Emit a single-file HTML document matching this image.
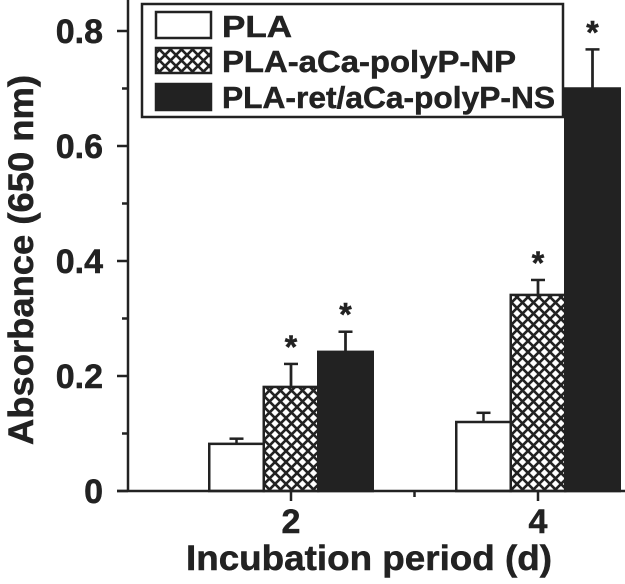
<!DOCTYPE html>
<html><head><meta charset="utf-8"><style>
body{margin:0;background:#fff;}
svg text{font-family:"Liberation Sans",Arial,sans-serif;font-weight:bold;fill:#222;stroke:#222;stroke-width:0.5;}
</style></head><body>
<svg id="chart" width="625" height="579" viewBox="0 0 625 579" xmlns="http://www.w3.org/2000/svg">
<defs>
<pattern id="xhatch" patternUnits="userSpaceOnUse" width="11" height="11">
<rect width="11" height="11" fill="#fff"/>
<path d="M-1,1 L1,-1 M0,11 L11,0 M10,12 L12,10" stroke="#222" stroke-width="2.6"/>
<path d="M-1,10 L1,12 M0,0 L11,11 M10,-1 L12,1" stroke="#222" stroke-width="2.6"/>
</pattern>
</defs>
<g id="plot"></g>
<g id="legend">
<rect x="142" y="4" width="421" height="113" fill="#fff" stroke="#222" stroke-width="2.5"/>
<g>
<rect x="156" y="12" width="55" height="26" fill="#fff" stroke="#222" stroke-width="2.5"/>
<text x="222" y="37" font-size="31" textLength="70" lengthAdjust="spacingAndGlyphs">PLA</text></g>
<g>
<rect x="156" y="48" width="55" height="25" fill="url(#xhatch)" stroke="#222" stroke-width="2.5"/>
<text x="222" y="72" font-size="31" textLength="294" lengthAdjust="spacingAndGlyphs">PLA-aCa-polyP-NP</text></g>
<g>
<rect x="156" y="84" width="55" height="26" fill="#222" stroke="#222" stroke-width="2.5"/>
<text x="222" y="108" font-size="31" textLength="333" lengthAdjust="spacingAndGlyphs">PLA-ret/aCa-polyP-NS</text></g>
</g>
<text transform="translate(33,260) rotate(-90)" text-anchor="middle" font-size="35" textLength="370" lengthAdjust="spacingAndGlyphs">Absorbance (650 nm)</text>
<text x="369" y="570" text-anchor="middle" font-size="35" textLength="366" lengthAdjust="spacingAndGlyphs">Incubation period (d)</text>
</svg>
<script>
const categories=["2","4"];
const seriesNames=["PLA","PLA-aCa-polyP-NP","PLA-ret/aCa-polyP-NS"];
const plaValues=[0.082,0.12];
const plaErrors=[0.009,0.016];
const npValues=[0.181,0.341];
const npErrors=[0.04,0.026];
const nsValues=[0.242,0.70];
const nsErrors=[0.035,0.068];
const starred=[[false,false],[true,true],[true,true]];
const yTicks=[0,0.2,0.4,0.6,0.8];
const yTickLabels=["0","0.2","0.4","0.6","0.8"];

const NS="http://www.w3.org/2000/svg";
const g=document.getElementById('plot');
const X0=128,Y0=491,PXU=575;
const groupCenters={"2":291,"4":538};
const barW=54.5;
function y(v){return Y0-v*PXU;}
function x(cat,i){return groupCenters[cat]+(i-1.5)*barW;}
function mk(tag,attrs){const e=document.createElementNS(NS,tag);for(const k in attrs)e.setAttribute(k,attrs[k]);g.appendChild(e);return e;}
const fills=["#fff","url(#xhatch)","#222"];
const vals=[plaValues,npValues,nsValues];
const errs=[plaErrors,npErrors,nsErrors];
categories.forEach((c,ci)=>{
  vals.forEach((arr,si)=>{
    const v=arr[ci],e=errs[si][ci];
    const bx=x(c,si),cx=bx+barW/2;
    const ln=mk('line',{x1:cx,x2:cx,y1:y(v),y2:y(v+e),stroke:'#222','stroke-width':2.5});
    
    
    const cap=mk('line',{x1:cx-7,x2:cx+7,y1:y(v+e),y2:y(v+e),stroke:'#222','stroke-width':2.5});
    
    
    if(si===0){const cap2=mk('line',{x1:cx-7,x2:cx+7,y1:y(v-e),y2:y(v-e),stroke:'#222','stroke-width':2.5});
      
      }
    const r=mk('rect',{x:bx,y:y(v),width:barW,height:v*PXU,fill:fills[si],stroke:'#222','stroke-width':2.5});
    
    
    if(si>0){const l2=mk('line',{x1:cx,x2:cx,y1:y(v),y2:y(v+e),stroke:'#222','stroke-width':2.5});
      
      }
    if(starred[si][ci]){const t=mk('text',{x:cx,y:y(v+e)-6,'text-anchor':'middle','font-size':32});t.textContent='*';
      
      }
  });
});
const ya=mk('line',{x1:X0,x2:X0,y1:0,y2:Y0,stroke:'#222','stroke-width':2.5});


const xa=mk('line',{x1:117,x2:625,y1:Y0,y2:Y0,stroke:'#222','stroke-width':2.5});


yTicks.forEach((t,i)=>{
  const l=mk('line',{x1:117,x2:X0,y1:y(t),y2:y(t),stroke:'#222','stroke-width':2.5});
  
  
  if(i<yTicks.length-1){const m=mk('line',{x1:122,x2:X0,y1:y(t+0.1),y2:y(t+0.1),stroke:'#222','stroke-width':2.5});
    
    }
  const tx=mk('text',{x:103,y:y(t)+12,'text-anchor':'end','font-size':34});
  tx.textContent=yTickLabels[i];
  
  
});
categories.forEach(c=>{
  const cx=groupCenters[c];
  const l=mk('line',{x1:cx,x2:cx,y1:Y0,y2:Y0+10,stroke:'#222','stroke-width':2.5});
  
  
  const t=mk('text',{x:cx,y:533,'text-anchor':'middle','font-size':34});
  t.textContent=c;
  
  
});
const mid=(groupCenters["2"]+groupCenters["4"])/2;
const mt=mk('line',{x1:mid,x2:mid,y1:Y0,y2:Y0+6,stroke:'#222','stroke-width':2.5});


</script>
</body></html>
